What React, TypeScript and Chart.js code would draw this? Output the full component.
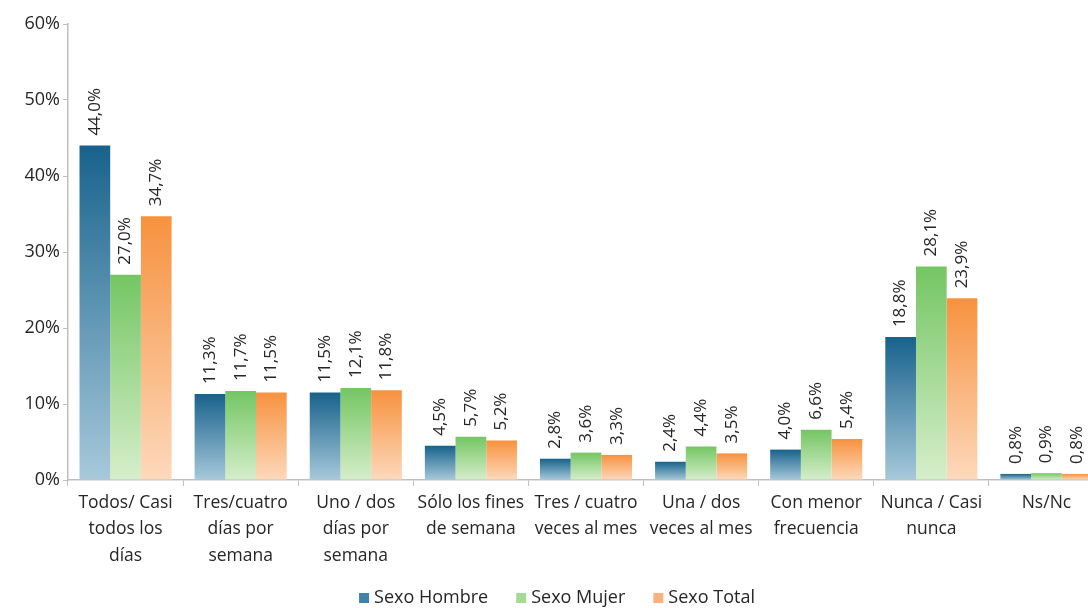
import React, { useEffect, useRef } from "react";
import { Chart, registerables } from "chart.js";

Chart.register(...registerables);

const categories: string[][] = [
  ["Todos/ Casi", "todos los", "días"],
  ["Tres/cuatro", "días por", "semana"],
  ["Uno / dos", "días por", "semana"],
  ["Sólo los fines", "de semana"],
  ["Tres / cuatro", "veces al mes"],
  ["Una / dos", "veces al mes"],
  ["Con menor", "frecuencia"],
  ["Nunca / Casi", "nunca"],
  ["Ns/Nc"],
];

const hombre = [44.0, 11.3, 11.5, 4.5, 2.8, 2.4, 4.0, 18.8, 0.8];
const mujer = [27.0, 11.7, 12.1, 5.7, 3.6, 4.4, 6.6, 28.1, 0.9];
const total = [34.7, 11.5, 11.8, 5.2, 3.3, 3.5, 5.4, 23.9, 0.8];

const seriesNames = ["Sexo Hombre", "Sexo Mujer", "Sexo Total"];
const yTicks = [0, 10, 20, 30, 40, 50, 60];

const FONT = "'Open Sans', sans-serif";

const grad = (top: string, bottom: string) => (ctx: any) => {
  const chart = ctx.chart;
  const { chartArea, scales } = chart;
  if (!chartArea || !scales || !scales.y || ctx.type !== "data") return top;
  const y0 = scales.y.getPixelForValue(ctx.raw);
  const y1 = scales.y.getPixelForValue(0);
  if (!isFinite(y0) || !isFinite(y1) || y0 === y1) return top;
  const g = chart.ctx.createLinearGradient(0, y0, 0, y1);
  g.addColorStop(0, top);
  g.addColorStop(1, bottom);
  return g;
};

const legendColors = ["#3f82aa", "#a6d994", "#fbb27c"];

const labelPlugin = {
  id: "barLabels",
  afterDatasetsDraw(chart: any) {
    const c = chart.ctx;
    c.save();
    c.font = `17px ${FONT}`;
    c.fillStyle = "#262626";
    c.textAlign = "left";
    c.textBaseline = "middle";
    chart.data.datasets.forEach((ds: any, di: number) => {
      const meta = chart.getDatasetMeta(di);
      meta.data.forEach((bar: any, i: number) => {
        const v = ds.data[i];
        const txt = v.toFixed(1).replace(".", ",") + "%";
        c.save();
        c.translate(bar.x, bar.y - 10);
        c.rotate(-Math.PI / 2);
        c.fillText(txt, 0, 0);
        c.restore();
      });
    });
    c.restore();
  },
};

const legendPlugin = {
  id: "bottomLegend",
  afterDraw(chart: any) {
    const c = chart.ctx;
    c.save();
    c.font = `18px ${FONT}`;
    c.textBaseline = "middle";
    c.textAlign = "left";
    const box = 10;
    const gapBox = 5;
    const gapItem = 28;
    const widths = seriesNames.map((n) => box + gapBox + c.measureText(n).width);
    const totalW = widths.reduce((a, b) => a + b, 0) + gapItem * (widths.length - 1);
    let x = 557 - totalW / 2;
    const y = 598;
    seriesNames.forEach((n, i) => {
      c.fillStyle = legendColors[i];
      c.fillRect(x, y - box / 2, box, box);
      c.fillStyle = "#262626";
      c.fillText(n, x + box + gapBox, y);
      x += widths[i] + gapItem;
    });
    c.restore();
  },
};

export default function App() {
  const ref = useRef<HTMLCanvasElement | null>(null);
  useEffect(() => {
    if (!ref.current) return;
    const chart = new Chart(ref.current, {
      type: "bar",
      data: {
        labels: categories,
        datasets: [
          { label: seriesNames[0], data: hombre, backgroundColor: grad("#18628c", "#a7c9db") },
          { label: seriesNames[1], data: mujer, backgroundColor: grad("#74c663", "#d6eecb") },
          { label: seriesNames[2], data: total, backgroundColor: grad("#f7923f", "#fdd9bc") },
        ],
      },
      options: {
        animation: false,
        responsive: false,
        maintainAspectRatio: false,
        layout: { padding: { left: 8, top: 24, right: 0, bottom: 28 } },
        datasets: { bar: { categoryPercentage: 0.8, barPercentage: 1.0 } },
        plugins: {
          tooltip: { enabled: false },
          legend: { display: false },
        },
        scales: {
          x: {
            grid: {
              display: true,
              offset: true,
              drawOnChartArea: false,
              drawTicks: true,
              tickLength: 6,
              color: "#bfbfbf",
            },
            border: { color: "#bfbfbf", width: 1.5 },
            ticks: {
              autoSkip: false,
              maxRotation: 0,
              minRotation: 0,
              padding: 4,
              color: "#262626",
              font: { family: FONT, size: 17.5, lineHeight: 1.5 },
            },
            afterFit: (s: any) => {
              s.height = 100;
            },
          },
          y: {
            min: 0,
            max: 60,
            afterBuildTicks: (s: any) => {
              s.ticks = yTicks.map((v) => ({ value: v }));
            },
            grid: {
              display: true,
              drawOnChartArea: false,
              drawTicks: true,
              tickLength: 5,
              color: "#bfbfbf",
            },
            border: { color: "#bfbfbf", width: 1.5 },
            ticks: {
              padding: 3,
              color: "#262626",
              font: { family: FONT, size: 18 },
              callback: (v: any) => v + "%",
            },
            afterFit: (s: any) => {
              s.width = 60;
            },
          },
        },
      },
      plugins: [labelPlugin, legendPlugin],
    });
    return () => chart.destroy();
  }, []);
  return (
    <div style={{ position: "absolute", left: 0, top: 0, width: 1088, height: 608, overflow: "hidden", background: "#fff" }}>
      <canvas ref={ref} width={1104} height={608} style={{ display: "block" }} />
    </div>
  );
}
